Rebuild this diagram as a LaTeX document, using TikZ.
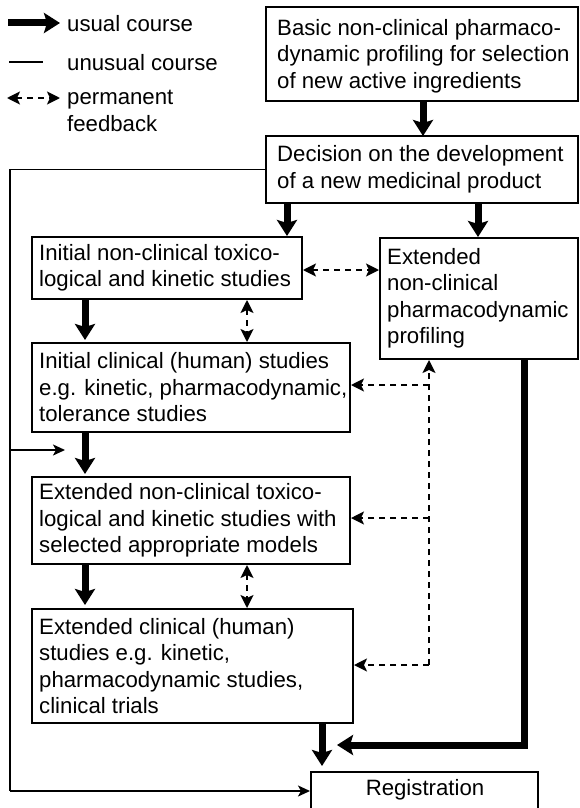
\documentclass[tikz,border=0pt]{standalone}
\usepackage{fontspec}
\setmainfont{Liberation Sans}
\usetikzlibrary{arrows.meta}
\begin{document}
\begin{tikzpicture}[x=1pt,y=-1pt,
  box/.style={draw, line width=2pt, inner sep=0pt},
  txt/.style={font=\fontsize{22.2}{26.5}\selectfont, align=left, inner sep=0pt, anchor=west},
  usual/.style={line width=7pt, -{Stealth[length=16pt,width=20pt,inset=3pt]}},
  thickline/.style={line width=7pt},
  unusual/.style={line width=1.8pt},
  unusualarrow/.style={line width=1.8pt, -{Stealth[length=12pt,width=11pt,inset=3pt]}},
  feedback/.style={line width=1.8pt, dash pattern=on 6pt off 5pt},
  fbone/.style={feedback, -{Stealth[length=13pt,width=13pt,inset=3pt]}},
  fbtwo/.style={feedback, {Stealth[length=13pt,width=13pt,inset=3pt]}-{Stealth[length=13pt,width=13pt,inset=3pt]}}
]
\useasboundingbox (0,0) rectangle (580,808);
\clip (0,0) rectangle (580,808);
\fill[white] (0,0) rectangle (580,808);

% legend
\coordinate (l1a) at (8,23);   \coordinate (l1b) at (60,23);
\coordinate (l2a) at (9,62);   \coordinate (l2b) at (43,62);
\coordinate (l3a) at (7,98);   \coordinate (l3b) at (60,98);
\draw[usual] (l1a) -- (l1b);
\draw[unusual] (l2a) -- (l2b);
\draw[fbtwo] (l3a) -- (l3b);
\node[txt] (lt1) at (67,24) {usual course};
\node[txt] (lt2) at (67,63) {unusual course};
\node[txt] (lt3) at (67,111) {permanent\\feedback};

% boxes
\node[box, minimum width=312pt, minimum height=94pt] (b1) at (422,54) {};
\node[box, minimum width=312pt, minimum height=67pt] (b2) at (422,169.5) {};
\node[box, minimum width=270pt, minimum height=62pt] (b3) at (167,268) {};
\node[box, minimum width=198pt, minimum height=121pt] (bx) at (479,298.5) {};
\node[box, minimum width=318pt, minimum height=89pt] (b4) at (191,387.5) {};
\node[box, minimum width=318pt, minimum height=87pt] (b5) at (191,520.5) {};
\node[box, minimum width=321pt, minimum height=114pt] (b6) at (192.5,666) {};
\node[box, minimum width=227pt, minimum height=40pt] (reg) at (424.5,792) {};

% box texts
\node[txt] (t1) at ([xshift=12pt,yshift=-2pt]b1.west) {Basic non-clinical pharmaco-\\dynamic profiling for selection\\of new active ingredients};
\node[txt] (t2) at ([xshift=12pt]b2.west) {Decision on the development\\of a new medicinal product};
\node[txt] (t3) at ([xshift=8pt]b3.west) {Initial non-clinical toxico-\\logical and kinetic studies};
\node[txt] (tx) at ([xshift=8pt]bx.west) {Extended\\non-clinical\\pharmacodynamic\\profiling};
\node[txt] (t4) at ([xshift=8pt]b4.west) {Initial clinical (human) studies\\e.g. kinetic, pharmacodynamic,\\tolerance studies};
\node[txt] (t5) at ([xshift=8pt]b5.west) {Extended non-clinical toxico-\\logical and kinetic studies with\\selected appropriate models};
\node[txt] (t6) at ([xshift=8pt]b6.west) {Extended clinical (human)\\studies e.g. kinetic,\\pharmacodynamic studies,\\clinical trials};
\node[txt, anchor=center] (tr) at (425,790) {Registration};

% usual course
\draw[usual] (423,101) -- (423,136);
\draw[usual] (b2.south -| 287,0) -- (b3.north -| 287,0);
\draw[usual] (b2.south -| 478,0) -- (bx.north -| 478,0);
\draw[usual, shorten >=2pt] (b3.south -| 85,0) -- (b4.north -| 85,0);
\draw[usual, shorten >=2pt] (b4.south -| 85,0) -- (b5.north -| 85,0);
\draw[usual, shorten >=3pt] (b5.south -| 85,0) -- (b6.north -| 85,0);
\draw[usual, shorten >=5pt] (b6.south -| 322,0) -- (reg.north -| 322,0);
\coordinate (bend) at (524,745);
\coordinate (tipx) at (337,745);
\draw[thickline] (bx.south -| 524,0) -- (bend);
\draw[usual] ([xshift=3.5pt]bend) -- (tipx);

% unusual course
\coordinate (lc1) at (10,169.5);
\coordinate (lc2) at (10,791);
\coordinate (lc3) at (10,450);
\coordinate (lc4) at (65,450);
\draw[unusual] (b2.west) -- (lc1) -- (lc2);
\draw[unusualarrow] (lc2) -- (reg.west |- lc2);
\draw[unusualarrow] (lc3) -- (lc4);

% permanent feedback
\draw[fbtwo] (b3.east |- 0,270) -- (bx.west |- 0,270);
\draw[fbtwo] (b3.south -| 247,0) -- (b4.north -| 247,0);
\draw[fbtwo] (b5.south -| 247,0) -- (b6.north -| 247,0);
\coordinate (fv1) at (429,385);
\coordinate (fv2) at (429,518);
\coordinate (fv3) at (429,665);
\draw[fbone] (fv3) -- (bx.south -| fv3);
\draw[fbone] (fv1) -- (b4.east |- fv1);
\draw[fbone] (fv2) -- (b5.east |- fv2);
\draw[fbone] (fv3) -- (b6.east |- fv3);
\end{tikzpicture}
\end{document}
